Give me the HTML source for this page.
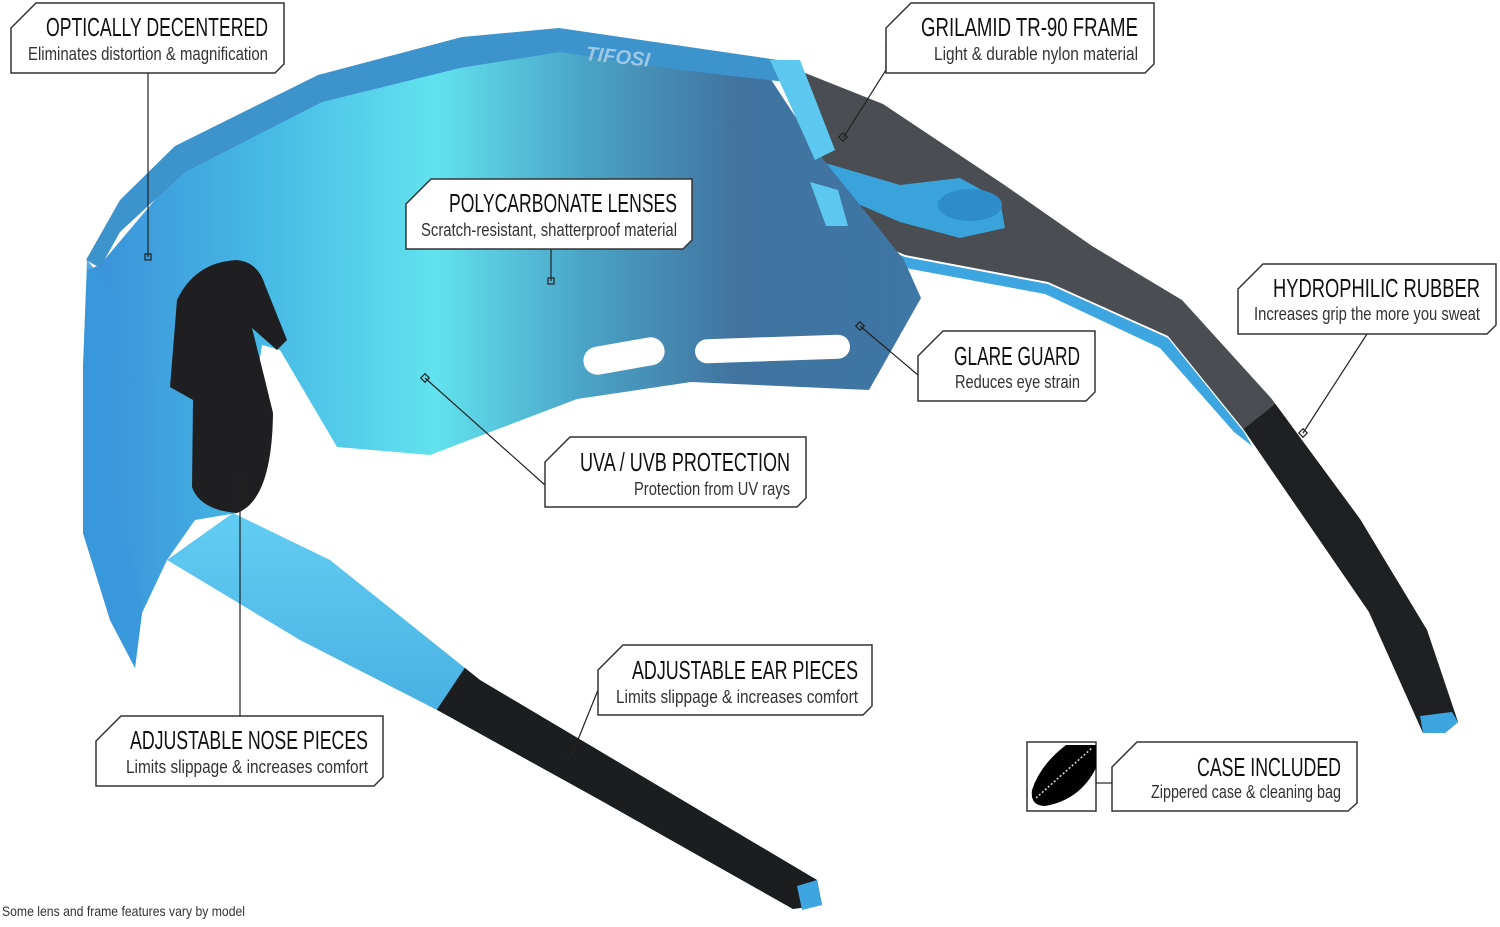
<!DOCTYPE html>
<html><head><meta charset="utf-8"><style>
html,body{margin:0;padding:0;background:#fff;width:1500px;height:927px;overflow:hidden}
svg{display:block}
.t{font-family:"Liberation Sans Narrow","Liberation Sans",sans-serif;font-size:26px;fill:#111}
.s{font-family:"Liberation Sans Narrow","Liberation Sans",sans-serif;font-size:18px;fill:#333}
.b{fill:#fff;stroke:#333;stroke-width:1.5}
.l{stroke:#222;stroke-width:1.2;fill:none}
.d{fill:none;stroke:#222;stroke-width:1.2}
</style></head><body>
<svg width="1500" height="927" viewBox="0 0 1500 927" xmlns="http://www.w3.org/2000/svg">
<defs>
<linearGradient id="lens" x1="0" y1="0" x2="1" y2="0">
<stop offset="0" stop-color="#3a8fd8"/><stop offset="0.2" stop-color="#45b6e4"/><stop offset="0.42" stop-color="#62e2ee"/><stop offset="0.6" stop-color="#4aa3c6"/><stop offset="0.78" stop-color="#41739f"/><stop offset="1" stop-color="#3e76a4"/>
</linearGradient>
<linearGradient id="arm" x1="0" y1="0" x2="0" y2="1">
<stop offset="0" stop-color="#62cdf2"/><stop offset="1" stop-color="#3195d4"/>
</linearGradient>
<clipPath id="grip"><polygon points="1180,480 1330,360 1600,700 1600,900 1300,900"/></clipPath>
<clipPath id="grip2"><polygon points="430,720 470,660 900,800 900,950 430,950"/></clipPath>
</defs>

<!-- right arm -->
<g>
<path d="M780,63 L883,104 L1003,184 L1092,246 L1182,300 L1271,398 L1360,519 L1427,630 L1458,722 L1445,733 L1423,733 L1369,612 L1244,430 L1168,336 L1048,282 L905,255 L825,220 Z" fill="#4a4d52"/>
<path d="M825,222 L905,257 L1048,284 L1168,338 L1244,432 L1252,446 L1234,432 L1160,348 L1045,294 L900,267 L830,236 Z" fill="#3da6e0"/>
<path clip-path="url(#grip)" d="M780,63 L883,104 L1003,184 L1092,246 L1182,300 L1271,398 L1360,519 L1427,630 L1458,722 L1445,733 L1423,733 L1369,612 L1244,430 L1168,336 L1048,282 L905,255 L825,220 Z" fill="#1f2022"/>
<path d="M1420,716 L1452,712 L1458,722 L1445,733 L1423,733 Z" fill="#3da6e0"/>
<path d="M815,160 L900,185 L960,178 L1000,200 L1005,228 L960,238 L900,222 L830,192 Z" fill="#3aa3dc"/>
<ellipse cx="970" cy="205" rx="32" ry="16" fill="#2f8ccb"/>
</g>

<!-- left arm -->
<path d="M233,513 L330,560 L480,680 L640,775 L817,880 L822,905 L793,909 L600,800 L439,711 L300,640 L167,560 Z" fill="url(#arm)"/>
<path clip-path="url(#grip2)" d="M233,513 L330,560 L480,680 L640,775 L817,880 L822,905 L793,909 L600,800 L439,711 L300,640 L167,560 Z" fill="#1c1d1f"/>
<path d="M797,886 L817,880 L822,905 L802,910 Z" fill="#3da6e0"/>

<!-- lens -->
<path d="M100,265 L180,170 L320,100 L460,65 L560,50 L770,78 L823,159 L904,260 L921,298 L869,390 L691,382 L577,399 L430,455 L337,447 L280,350 L262,345 L237,513 L195,520 L167,560 L142,613 L135,668 L110,620 L83,533 L83,367 L87,270 Z" fill="url(#lens)"/>
<path d="M87,260 L83,367 L83,533 L110,620 L135,668 L142,613 L137,573 L118,520 L110,420 L120,300 Z" fill="#3a98dc" opacity="0.85"/>
<!-- brow -->
<path d="M86,260 L120,200 L175,146 L318,75 L462,37 L559,28 L778,60 L786,82 L680,70 L560,52 L460,68 L322,102 L185,172 L120,232 L100,268 Z" fill="#3d93cc"/>
<path d="M770,60 L800,60 L835,150 L815,160 Z" fill="#5cc8f0"/>
<path d="M810,182 L838,190 L848,226 L826,226 Z" fill="#5cc8f0"/>
<text x="585" y="60" font-family="Liberation Sans" font-style="italic" font-weight="bold" font-size="20" fill="#9cc8e4" transform="rotate(6 585 60)">TIFOSI</text>
<!-- vents -->
<rect x="583" y="342" width="82" height="28" rx="14" fill="#fff" transform="rotate(-10 624 356)"/>
<rect x="695" y="337" width="155" height="24" rx="12" fill="#fff" transform="rotate(-2 772 349)"/>
<!-- nose pad -->
<path d="M177,300 Q195,262 237,260 Q258,262 265,285 L287,340 L277,350 L252,328 L265,380 L273,413 Q272,500 237,513 Q200,510 192,487 L193,400 L170,387 Z" fill="#1f1f21"/>

<!-- connectors -->
<line class="l" x1="148" y1="73" x2="148" y2="257"/><rect class="d" x="145" y="254" width="6" height="6"/>
<polyline class="l" points="886,45 886,70 843,138"/><rect class="d" x="840" y="134" width="6" height="6" transform="rotate(45 843 137)"/>
<line class="l" x1="551" y1="249" x2="551" y2="281"/><rect class="d" x="548" y="278" width="6" height="6"/>
<line class="l" x1="1367" y1="334" x2="1303" y2="433"/><rect class="d" x="1300" y="430" width="6" height="6" transform="rotate(45 1303 433)"/>
<line class="l" x1="918" y1="375" x2="860" y2="326"/><rect class="d" x="857" y="323" width="6" height="6" transform="rotate(45 860 326)"/>
<line class="l" x1="545" y1="485" x2="425" y2="378"/><rect class="d" x="422" y="375" width="6" height="6" transform="rotate(45 425 378)"/>
<line class="l" x1="598" y1="690" x2="571" y2="757"/><rect class="d" x="568" y="754" width="6" height="6" transform="rotate(45 571 757)"/>
<line class="l" x1="240" y1="716" x2="240" y2="479"/><rect class="d" x="237" y="476" width="6" height="6"/>
<line class="l" x1="1096" y1="783" x2="1112" y2="783"/>

<!-- boxes -->
<path class="b" d="M36,3 L284,3 L284,64 L275,73 L11,73 L11,28 Z"/>
<text class="t" x="268" y="36" text-anchor="end" textLength="222" lengthAdjust="spacingAndGlyphs">OPTICALLY DECENTERED</text>
<text class="s" x="268" y="60" text-anchor="end" textLength="240" lengthAdjust="spacingAndGlyphs">Eliminates distortion &amp; magnification</text>

<path class="b" d="M911,3 L1154,3 L1154,64 L1145,73 L886,73 L886,28 Z"/>
<text class="t" x="1138" y="36" text-anchor="end" textLength="217" lengthAdjust="spacingAndGlyphs">GRILAMID TR-90 FRAME</text>
<text class="s" x="1138" y="60" text-anchor="end" textLength="204" lengthAdjust="spacingAndGlyphs">Light &amp; durable nylon material</text>

<path class="b" d="M431,179 L692,179 L692,240 L683,249 L406,249 L406,204 Z"/>
<text class="t" x="677" y="212" text-anchor="end" textLength="228" lengthAdjust="spacingAndGlyphs">POLYCARBONATE LENSES</text>
<text class="s" x="677" y="236" text-anchor="end" textLength="256" lengthAdjust="spacingAndGlyphs">Scratch-resistant, shatterproof material</text>

<path class="b" d="M1263,264 L1496,264 L1496,325 L1487,334 L1238,334 L1238,289 Z"/>
<text class="t" x="1480" y="297" text-anchor="end" textLength="207" lengthAdjust="spacingAndGlyphs">HYDROPHILIC RUBBER</text>
<text class="s" x="1480" y="320" text-anchor="end" textLength="226" lengthAdjust="spacingAndGlyphs">Increases grip the more you sweat</text>

<path class="b" d="M943,331 L1095,331 L1095,392 L1086,401 L918,401 L918,356 Z"/>
<text class="t" x="1080" y="365" text-anchor="end" textLength="126" lengthAdjust="spacingAndGlyphs">GLARE GUARD</text>
<text class="s" x="1080" y="388" text-anchor="end" textLength="125" lengthAdjust="spacingAndGlyphs">Reduces eye strain</text>

<path class="b" d="M570,437 L806,437 L806,498 L797,507 L545,507 L545,462 Z"/>
<text class="t" x="790" y="471" text-anchor="end" textLength="210" lengthAdjust="spacingAndGlyphs">UVA / UVB PROTECTION</text>
<text class="s" x="790" y="495" text-anchor="end" textLength="156" lengthAdjust="spacingAndGlyphs">Protection from UV rays</text>

<path class="b" d="M623,645 L872,645 L872,706 L863,715 L598,715 L598,670 Z"/>
<text class="t" x="858" y="679" text-anchor="end" textLength="226" lengthAdjust="spacingAndGlyphs">ADJUSTABLE EAR PIECES</text>
<text class="s" x="858" y="703" text-anchor="end" textLength="242" lengthAdjust="spacingAndGlyphs">Limits slippage &amp; increases comfort</text>

<path class="b" d="M121,716 L383,716 L383,777 L374,786 L96,786 L96,741 Z"/>
<text class="t" x="368" y="749" text-anchor="end" textLength="238" lengthAdjust="spacingAndGlyphs">ADJUSTABLE NOSE PIECES</text>
<text class="s" x="368" y="773" text-anchor="end" textLength="242" lengthAdjust="spacingAndGlyphs">Limits slippage &amp; increases comfort</text>

<path class="b" d="M1137,742 L1357,742 L1357,803 L1348,811 L1112,811 L1112,767 Z"/>
<text class="t" x="1341" y="776" text-anchor="end" textLength="144" lengthAdjust="spacingAndGlyphs">CASE INCLUDED</text>
<text class="s" x="1341" y="798" text-anchor="end" textLength="190" lengthAdjust="spacingAndGlyphs">Zippered case &amp; cleaning bag</text>

<!-- case icon -->
<rect x="1027" y="742" width="69" height="69" fill="#fff" stroke="#333" stroke-width="1.5"/>
<path d="M1066,745 L1096,745 L1096,768 Q1080,800 1045,806 Q1030,806 1032,790 Q1040,765 1066,745 Z" fill="#000"/>
<line x1="1036" y1="798" x2="1092" y2="748" stroke="#ddd" stroke-width="1.5" stroke-dasharray="2 2"/>

<text x="2" y="916" font-family="'Liberation Sans Narrow','Liberation Sans',sans-serif" font-size="14" fill="#333" textLength="243" lengthAdjust="spacingAndGlyphs">Some lens and frame features vary by model</text>
</svg>
</body></html>
